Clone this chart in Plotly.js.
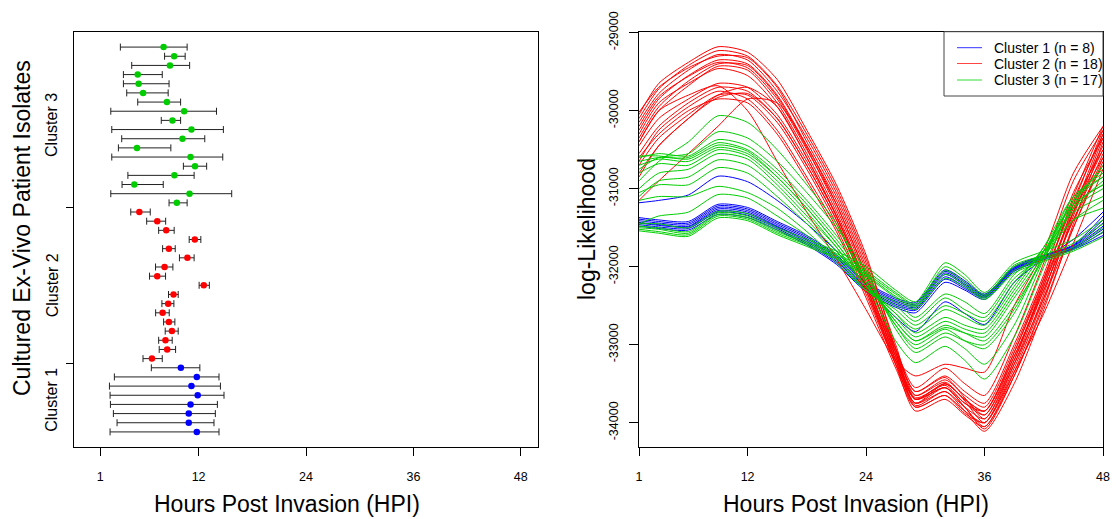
<!DOCTYPE html>
<html>
<head>
<meta charset="utf-8">
<script src="https://cdn.plot.ly/plotly-3.0.1.min.js"></script>
<style>html,body{margin:0;padding:0;background:#fff;}#chart{width:1116px;height:519px;}</style>
</head>
<body>
<div id="chart"></div>
<script>
// ---------- Left panel: estimated HPI with intervals, per isolate (bottom to top) ----------
const clusterNames = ['Cluster 1', 'Cluster 2', 'Cluster 3'];
const clusterCounts = [8, 18, 17];

const c1Lo  = [2.11, 2.89, 2.48, 2.15, 2.11, 2.04, 2.59, 6.72];
const c1Est = [11.8, 10.9, 10.9, 11.1, 11.9, 11.2, 11.8, 10.02];
const c1Hi  = [14.28, 13.72, 13.87, 14.1, 14.84, 14.44, 14.28, 12.14];

const c2Lo  = [5.79, 7.6, 7.54, 8.27, 8.09, 7.2, 7.9, 8.64, 12.06, 6.52, 7.19, 9.86, 7.98, 10.95, 7.54, 6.2, 4.42];
const c2Est = [6.79, 8.49, 8.3, 9.02, 8.68, 7.98, 8.6, 9.2, 12.58, 7.38, 8.2, 10.75, 8.68, 11.58, 8.38, 7.38, 5.38];
const c2Hi  = [7.94, 9.43, 9.05, 9.72, 9.35, 8.72, 9.24, 9.72, 13.2, 8.31, 9.13, 11.5, 9.39, 12.25, 9.27, 8.32, 6.6];

const c3Lo  = [8.7, 2.19, 3.45, 4.1, 10.3, 2.3, 3.04, 3.41, 2.3, 7.83, 2.19, 5.2, 3.97, 3.6, 3.6, 4.53, 8.2, 3.26];
const c3Est = [9.57, 10.99, 4.82, 9.3, 11.6, 11.1, 5.12, 10.2, 11.2, 9.08, 10.39, 8.46, 5.8, 5.3, 5.2, 8.8, 9.27, 8.09];
const c3Hi  = [10.72, 15.7, 8.05, 11.5, 12.9, 14.7, 8.9, 12.69, 14.77, 9.99, 14.0, 9.99, 8.6, 8.7, 7.94, 11.0, 10.5, 10.72];

const hpiTicks = [1, 12, 24, 36, 48];

// ---------- Right panel: log-likelihood curves ----------
const hours = [1, 3, 6, 9, 12, 15, 18, 21, 24, 27, 29, 32, 34, 36, 39, 42, 45, 48];

const cluster1Curves = [
  [-31370,-31400,-31420,-31200,-31240,-31420,-31600,-31850,-32200,-32400,-32460,-32040,-32180,-32350,-32000,-31850,-31720,-31350],
  [-31390,-31420,-31440,-31220,-31260,-31440,-31620,-31870,-32220,-32420,-32480,-32060,-32200,-32360,-32010,-31860,-31730,-31400],
  [-31410,-31440,-31460,-31240,-31280,-31460,-31640,-31890,-32240,-32440,-32500,-32080,-32220,-32370,-32020,-31870,-31740,-31440],
  [-31430,-31460,-31480,-31260,-31300,-31480,-31660,-31910,-32260,-32460,-32520,-32100,-32240,-32380,-32030,-31880,-31750,-31480],
  [-31440,-31470,-31490,-31280,-31320,-31490,-31680,-31930,-32280,-32480,-32540,-32130,-32260,-32390,-32040,-31890,-31760,-31520],
  [-31460,-31490,-31510,-31300,-31340,-31510,-31700,-31950,-32300,-32500,-32560,-32160,-32280,-32400,-32050,-31900,-31770,-31560],
  [-31480,-31510,-31530,-31330,-31370,-31530,-31720,-31970,-32320,-32520,-32590,-32200,-32300,-32420,-32060,-31910,-31780,-31600],
  [-31180,-31150,-31080,-30840,-30910,-31150,-31450,-31800,-32250,-32650,-32830,-32450,-32600,-32740,-32200,-31900,-31650,-31300]
];

const cluster2Curves = [
  [-30050,-29650,-29380,-29180,-29250,-29600,-30250,-30950,-31850,-33050,-33700,-33550,-33800,-34080,-33400,-32450,-31300,-30300],
  [-30100,-29720,-29420,-29230,-29300,-29680,-30300,-31000,-31900,-33000,-33650,-33480,-33720,-34000,-33300,-32350,-31200,-30250],
  [-30150,-29780,-29480,-29280,-29350,-29750,-30350,-31050,-31950,-33100,-33780,-33600,-33850,-34110,-33500,-32550,-31450,-30400],
  [-30020,-29700,-29450,-29300,-29320,-29700,-30400,-31100,-32000,-33050,-33600,-33420,-33680,-33950,-33200,-32200,-31100,-30200],
  [-30250,-29850,-29550,-29350,-29400,-29800,-30450,-31150,-32050,-33150,-33750,-33550,-33800,-34050,-33350,-32400,-31350,-30350],
  [-30200,-29820,-29560,-29380,-29450,-29850,-30500,-31200,-32100,-33100,-33700,-33500,-33700,-33900,-33150,-32250,-31250,-30450],
  [-30350,-29950,-29620,-29400,-29420,-29820,-30480,-31250,-32150,-33200,-33800,-33650,-33880,-34000,-33250,-32300,-31400,-30550],
  [-30400,-30000,-29680,-29430,-29480,-29900,-30550,-31300,-32200,-33150,-33680,-33520,-33750,-33850,-33100,-32150,-31150,-30300],
  [-30300,-29900,-29650,-29460,-29550,-29950,-30600,-31350,-32250,-33250,-33850,-33700,-33900,-34050,-33400,-32500,-31500,-30600],
  [-30450,-30100,-29850,-29650,-29700,-30050,-30650,-31350,-32200,-33100,-33600,-33400,-33600,-33750,-33000,-32100,-31050,-30350],
  [-30550,-30200,-29900,-29700,-29750,-30100,-30700,-31400,-32300,-33200,-33700,-33550,-33750,-33900,-33200,-32250,-31300,-30500],
  [-30650,-30250,-29950,-29750,-29850,-30250,-30850,-31500,-32350,-33250,-33750,-33600,-33800,-33950,-33250,-32400,-31500,-30650],
  [-30700,-30350,-30050,-29800,-29800,-30150,-30750,-31450,-32250,-33150,-33650,-33450,-33650,-33800,-33050,-32150,-31200,-30500],
  [-30600,-30300,-30000,-29850,-29900,-30300,-30900,-31550,-32400,-33300,-33800,-33650,-33850,-34000,-33350,-32600,-31700,-30750],
  [-30800,-30450,-30100,-29830,-29780,-30100,-30700,-31400,-32300,-33250,-33750,-33500,-33700,-33850,-33100,-32200,-31300,-30600],
  [-31150,-30900,-30550,-30200,-29850,-29900,-30450,-31200,-32100,-33050,-33550,-33300,-33500,-33650,-32900,-31950,-30900,-30250],
  [-30850,-30450,-30100,-29800,-29700,-29950,-30600,-31350,-32250,-33200,-33700,-33500,-33700,-33850,-33150,-32300,-31400,-30700],
  [-30400,-30000,-29800,-29680,-30000,-30650,-31300,-31900,-32550,-33200,-33400,-33250,-33300,-33350,-32500,-31800,-30800,-30200]
];

const cluster3Curves = [
  [-30900,-30650,-30400,-30065,-30150,-30500,-30950,-31450,-32200,-32950,-33230,-33020,-33200,-33440,-32900,-32000,-31200,-30700],
  [-30750,-30600,-30550,-30270,-30350,-30650,-31050,-31500,-32050,-32800,-33100,-32900,-33050,-33250,-32750,-31900,-31150,-30750],
  [-30600,-30550,-30580,-30370,-30450,-30750,-31150,-31600,-32100,-32750,-33000,-32800,-32950,-33050,-32600,-31850,-31100,-30800],
  [-30650,-30600,-30600,-30410,-30500,-30800,-31200,-31650,-32150,-32700,-32950,-32750,-32850,-32950,-32500,-31900,-31250,-30900],
  [-30580,-30580,-30620,-30440,-30520,-30850,-31250,-31700,-32200,-32750,-33050,-32850,-32950,-33000,-32550,-31850,-31150,-30850],
  [-30700,-30620,-30650,-30470,-30550,-30850,-31250,-31700,-32200,-32700,-32950,-32780,-32850,-32900,-32400,-31850,-31250,-31000],
  [-30800,-30680,-30700,-30500,-30580,-30900,-31300,-31750,-32250,-32650,-32900,-32700,-32800,-32850,-32350,-31800,-31200,-30950],
  [-31000,-30800,-30750,-30550,-30620,-30950,-31350,-31750,-32250,-32600,-32850,-32650,-32750,-32800,-32300,-31750,-31100,-30850],
  [-31100,-30900,-30850,-30630,-30700,-31000,-31400,-31800,-32250,-32600,-32800,-32550,-32650,-32750,-32250,-31750,-31200,-30950],
  [-31050,-30950,-30950,-30730,-30800,-31100,-31450,-31850,-32300,-32550,-32750,-32500,-32600,-32700,-32200,-31800,-31300,-31100],
  [-31150,-31100,-31100,-30970,-31050,-31250,-31550,-31900,-32300,-32500,-32700,-32400,-32550,-32650,-32150,-31850,-31400,-31150],
  [-31450,-31350,-31300,-31075,-31120,-31350,-31600,-31950,-32300,-32450,-32650,-32350,-32450,-32600,-32100,-31800,-31400,-31250],
  [-31450,-31450,-31500,-31290,-31320,-31500,-31650,-31800,-32000,-32300,-32450,-31950,-32100,-32330,-31950,-31800,-31650,-31400],
  [-31480,-31500,-31550,-31310,-31350,-31530,-31680,-31830,-32050,-32330,-32480,-32000,-32150,-32360,-31980,-31850,-31700,-31450],
  [-31500,-31520,-31570,-31330,-31370,-31550,-31700,-31850,-32080,-32350,-32500,-32050,-32200,-32380,-32000,-31880,-31750,-31500],
  [-31520,-31550,-31590,-31350,-31390,-31570,-31720,-31880,-32100,-32380,-32520,-32100,-32230,-32400,-32050,-31900,-31780,-31550],
  [-31540,-31570,-31610,-31375,-31410,-31590,-31740,-31900,-32120,-32400,-32550,-32150,-32260,-32420,-32080,-31930,-31800,-31620]
];
const llTicks = [-29000, -30000, -31000, -32000, -33000, -34000];
const llTickText = ['-29000', '-30000', '-31000', '-32000', '-33000', '-34000'];

// ---------- styling ----------
const W = 1116, H = 519;
const FONT = 'Liberation Sans, Arial, Helvetica, sans-serif';
const colors = ['#0000FF', '#FF0000', '#00CD00'];
const legendColors = ['#3333FF', '#FF4444', '#33DD33'];
const ebColor = '#222222';

const leftDom = [74 / W, 538 / W];
const rightDom = [639 / W, 1103 / W];
const yDom = [1 - 447.3 / H, 1 - 31.7 / H];
const px = v => v / W;
const py = v => 1 - v / H;

const traces = [];

// left panel point traces
const lo = [c1Lo, c2Lo, c3Lo], est = [c1Est, c2Est, c3Est], hi = [c1Hi, c2Hi, c3Hi];
let rowStart = 1;
const clusterMid = [];
for (let c = 0; c < 3; c++) {
  const n = est[c].length;
  const rows = est[c].map((_, i) => rowStart + i);
  clusterMid.push(rowStart + (n - 1) / 2);
  rowStart += n;
  traces.push({
    type: 'scatter', mode: 'markers', xaxis: 'x', yaxis: 'y',
    x: est[c], y: rows, showlegend: false, hoverinfo: 'skip',
    marker: {color: colors[c], size: 6.5, line: {width: 0}},
    error_x: {
      type: 'data', symmetric: false,
      array: hi[c].map((h, i) => h - est[c][i]),
      arrayminus: est[c].map((e, i) => e - lo[c][i]),
      color: ebColor, thickness: 1, width: 3.5
    }
  });
}
const totalRows = rowStart - 1;
const boundaries = [c1Est.length + 0.5, c1Est.length + c2Est.length + 0.5];

// right panel curves
const curveSets = [cluster1Curves, cluster2Curves, cluster3Curves];
for (let c = 0; c < 3; c++) {
  curveSets[c].forEach((vals) => {
    traces.push({
      type: 'scatter', mode: 'lines', xaxis: 'x2', yaxis: 'y2',
      x: hours, y: vals, hoverinfo: 'skip', showlegend: false,
      line: {color: colors[c], width: 1, shape: 'spline', smoothing: 0.7}
    });
  });
}

const axisCommon = {
  showgrid: false, zeroline: false, showline: true, mirror: true,
  linecolor: '#000', linewidth: 1, ticks: 'outside', tickcolor: '#000',
  tickwidth: 1, tickfont: {family: FONT, size: 12.5, color: '#000'}
};

function ann(text, x, y, size, angle, xanchor) {
  return {text: text, xref: 'paper', yref: 'paper', x: x, y: y,
    xanchor: xanchor || 'center', yanchor: 'middle', textangle: angle || 0, showarrow: false,
    font: {family: FONT, size: size, color: '#000'}};
}
const annotations = [
  ann('Cultured Ex-Vivo Patient Isolates', px(22), py(228), 23, -90),
  ann('Hours Post Invasion (HPI)', px(287), py(504), 23),
  ann('Hours Post Invasion (HPI)', px(856), py(504), 23),
  ann('log-Likelihood', px(587), py(229), 23, -90)
];
clusterNames.forEach((nm, c) => {
  annotations.push({text: nm, xref: 'paper', yref: 'y', x: px(52), y: clusterMid[c],
    xanchor: 'center', yanchor: 'middle',
    textangle: -90, showarrow: false, font: {family: FONT, size: 16, color: '#000'}});
});

// legend (drawn in the top-right corner of the right panel)
const legendRows = [47.7, 63.5, 80];
const shapes = [{type: 'rect', xref: 'paper', yref: 'paper',
  x0: px(944), x1: px(1103), y0: py(96), y1: py(31.7),
  line: {color: '#444', width: 1}, fillcolor: '#fff', layer: 'above'}];
clusterNames.forEach((nm, c) => {
  shapes.push({type: 'line', xref: 'paper', yref: 'paper',
    x0: px(957), x1: px(982), y0: py(legendRows[c]), y1: py(legendRows[c]),
    line: {color: legendColors[c], width: 1}, layer: 'above'});
  annotations.push(ann(nm + ' (n = ' + clusterCounts[c] + ')', px(992), py(legendRows[c]), 14, 0, 'left'));
});

const pad = 0.04 * (totalRows - 1);
const layout = {
  width: W, height: H, margin: {l: 0, r: 0, t: 0, b: 0},
  paper_bgcolor: '#fff', plot_bgcolor: '#fff',
  font: {family: FONT, color: '#000'},
  showlegend: false,
  xaxis: Object.assign({}, axisCommon, {domain: leftDom, anchor: 'y',
    range: [-1.92, 49.92], tickmode: 'array', tickvals: hpiTicks, ticklen: 8, ticklabelstandoff: 10}),
  yaxis: Object.assign({}, axisCommon, {domain: yDom, anchor: 'x',
    range: [1 - pad, totalRows + pad], tickmode: 'array', tickvals: boundaries,
    ticktext: ['', ''], ticklen: 7}),
  xaxis2: Object.assign({}, axisCommon, {domain: rightDom, anchor: 'y2',
    range: [1, 48], tickmode: 'array', tickvals: hpiTicks, ticklen: 8, ticklabelstandoff: 10}),
  yaxis2: Object.assign({}, axisCommon, {domain: yDom, anchor: 'x2',
    range: [-34315, -28987], tickmode: 'array', tickvals: llTicks, ticktext: llTickText,
    tickangle: -90, ticklen: 9, ticklabelstandoff: 6}),
  shapes: shapes,
  annotations: annotations
};

Plotly.newPlot('chart', traces, layout, {displayModeBar: false, staticPlot: true});
</script>
</body>
</html>
